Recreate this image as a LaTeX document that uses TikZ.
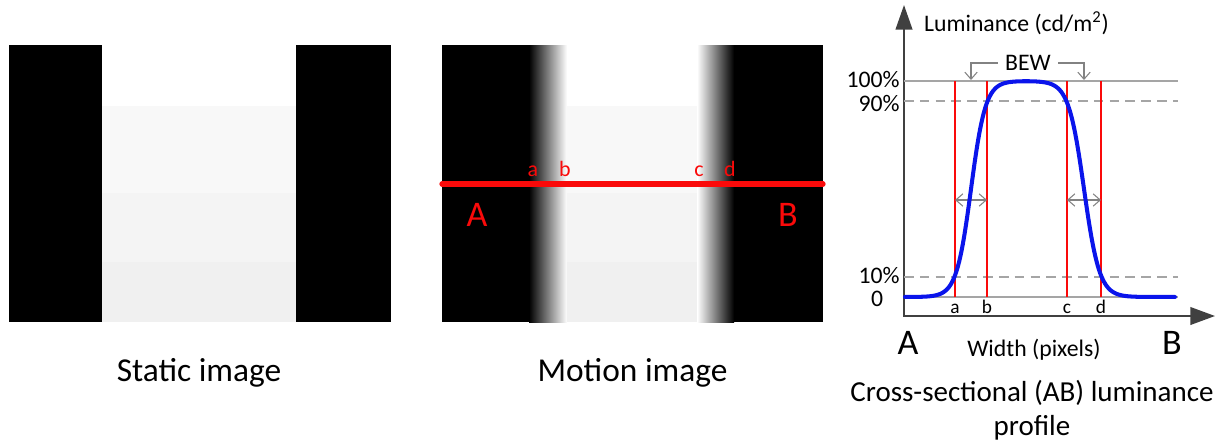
\documentclass[tikz,border=0pt]{standalone}
\usepackage{fontspec}
\setmainfont{Carlito}
\definecolor{lumblue}{RGB}{10,20,235}
\definecolor{lumred}{RGB}{250,10,10}
\definecolor{axisgray}{RGB}{64,64,64}
\definecolor{guidegray}{RGB}{165,165,165}
\definecolor{arrowgray}{RGB}{130,130,130}
\definecolor{stripeA}{RGB}{248,248,248}
\definecolor{stripeB}{RGB}{244,244,244}
\definecolor{stripeC}{RGB}{240,240,240}
\usetikzlibrary{arrows.meta}

\begin{document}
\begin{tikzpicture}[
  caption/.style={font=\fontsize{16.5}{19.35}\selectfont, align=center},
  bigcaption/.style={font=\fontsize{19}{22}\selectfont},
  bigletter/.style={font=\fontsize{20.5}{24}\selectfont},
  axislabel/.style={font=\fontsize{13.5}{16}\selectfont},
  edgemark/.style={font=\fontsize{11}{13}\selectfont, anchor=base, inner sep=0pt},
  guide/.style={guidegray, line width=0.7pt},
  redline/.style={lumred, line width=0.6pt},
  barb/.style={arrowgray, line width=0.6pt}
]
  \useasboundingbox (0,0) rectangle (24.6,8.94);

  % Static image
  \fill[black] (0.18,2.5) rectangle (2.04,8.04);
  \fill[black] (5.92,2.5) rectangle (7.82,8.04);
  \fill[stripeA] (2.04,5.08) rectangle (5.92,6.82);
  \fill[stripeB] (2.04,3.70) rectangle (5.92,5.08);
  \fill[stripeC] (2.04,2.5) rectangle (5.92,3.70);
  \node[bigcaption] (static) at (3.98,1.48) {Static image};

  % Motion image
  \fill[black] (8.84,2.5) rectangle (10.58,8.04);
  \shade[left color=black, right color=white] (10.58,2.5) rectangle (11.34,8.04);
  \fill[stripeA] (11.34,5.08) rectangle (13.94,6.82);
  \fill[stripeB] (11.34,3.70) rectangle (13.94,5.08);
  \fill[stripeC] (11.34,2.5) rectangle (13.94,3.70);
  \shade[left color=white, right color=black] (13.94,2.5) rectangle (14.68,8.04);
  \fill[black] (14.68,2.5) rectangle (16.46,8.04);
  \node[bigcaption] (motion) at (12.65,1.48) {Motion image};

  % Cross-section AB
  \coordinate (secA) at (8.84,5.26);
  \coordinate (secB) at (16.46,5.26);
  \draw[lumred, line width=3pt, line cap=round] (secA) -- (secB);
  \node[edgemark, text=lumred, font=\fontsize{12.5}{14}\selectfont] (ma) at (10.66,5.42) {a};
  \node[edgemark, text=lumred, font=\fontsize{12.5}{14}\selectfont] (mb) at (11.30,5.42) {b};
  \node[edgemark, text=lumred, font=\fontsize{12.5}{14}\selectfont] (mc) at (13.98,5.42) {c};
  \node[edgemark, text=lumred, font=\fontsize{12.5}{14}\selectfont] (md) at (14.60,5.42) {d};
  \node[bigletter, text=lumred] (mA) at (9.54,4.64) {A};
  \node[bigletter, text=lumred] (mB) at (15.76,4.64) {B};

  % Profile axes
  \coordinate (orig) at (18.08,2.62);
  \coordinate (ytip) at (18.08,8.84);
  \coordinate (xtip) at (24.3,2.62);
  \draw[axisgray, line width=1.1pt, {Triangle[length=14pt,width=9.5pt]}-{Triangle[length=14pt,width=10pt]}] (ytip) -- (orig) -- (xtip);
  \node[axislabel, anchor=west] (ylab) at (18.36,8.48) {Luminance (cd/m\textsuperscript{2})};
  \node[axislabel] (xlab) at (20.68,1.94) {Width (pixels)};
  \node[bigletter] (gA) at (18.16,2.08) {A};
  \node[bigletter] (gB) at (23.44,2.08) {B};

  % Levels
  \draw[guide] (18.08,7.32) -- (23.56,7.32);
  \draw[guide, dash pattern=on 5.5pt off 3.5pt] (18.08,6.92) -- (23.56,6.92);
  \draw[guide, dash pattern=on 5.5pt off 3.5pt] (18.08,3.40) -- (23.56,3.40);
  \draw[guide] (18.08,3.00) -- (23.56,3.00);
  \node[axislabel, anchor=east, inner sep=0pt] (p100) at (18.0,7.35) {100\%};
  \node[axislabel, anchor=east, inner sep=0pt] (p90) at (18.0,6.87) {90\%};
  \node[axislabel, anchor=east, inner sep=0pt] (p10) at (18.0,3.42) {10\%};
  \node[axislabel, inner sep=0pt] (p0) at (17.54,2.96) {0};

  % Edge markers
  \foreach \ex/\nm in {19.10/a, 19.74/b, 21.34/c, 22.02/d} {
    \draw[redline] (\ex,3.00) -- (\ex,7.32);
    \node[edgemark] (g\nm) at (\ex,2.68) {\nm};
  }
  \coordinate (ab1) at (19.10,4.94);
  \coordinate (ab2) at (19.74,4.94);
  \coordinate (cd1) at (21.34,4.94);
  \coordinate (cd2) at (22.02,4.94);
  \draw[barb, {Straight Barb[length=4pt,width=7pt]}-{Straight Barb[length=4pt,width=7pt]}] (ab1) -- (ab2);
  \draw[barb, {Straight Barb[length=4pt,width=7pt]}-{Straight Barb[length=4pt,width=7pt]}] (cd1) -- (cd2);

  % BEW
  \node[axislabel, inner sep=4pt] (bew) at (20.56,7.68) {BEW};
  \coordinate (bewL) at (19.42,7.34);
  \coordinate (bewR) at (21.68,7.34);
  \draw[barb, -{Straight Barb[length=4pt,width=7pt]}] (bew.west) -| (bewL);
  \draw[barb, -{Straight Barb[length=4pt,width=7pt]}] (bew.east) -| (bewR);

  % Profile curve
  \draw[lumblue, line width=2.3pt, line cap=round, smooth, samples=160, domain=18.1:23.5]
    plot (\x, {3.0 + 4.32/(1+exp(min(max(-6.866*(\x-19.42),-9),9)))/(1+exp(min(max(6.46*(\x-21.68),-9),9)))});

  \node[caption] (profcap) at (20.64,0.74) {Cross-sectional (AB) luminance\\profile};
\end{tikzpicture}
\end{document}
